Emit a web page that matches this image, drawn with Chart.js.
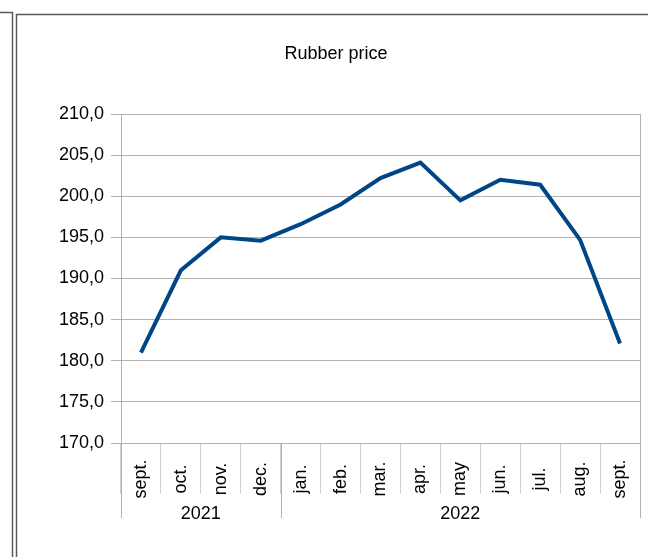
<!DOCTYPE html>
<html>
<head>
<meta charset="utf-8">
<script src="https://cdn.jsdelivr.net/npm/chart.js@4"></script>
<style>
  html, body { margin: 0; padding: 0; background: #fff; }
  canvas { display: block; }
</style>
</head>
<body>
<canvas id="c" width="648" height="557"></canvas>
<script>
const chartTitle = "Rubber price";
const months = ["sept.", "oct.", "nov.", "dec.", "jan.", "feb.", "mar.", "apr.", "may", "jun.", "jul.", "aug.", "sept."];
const years = ["2021", "2022"];
const yearSpans = [4, 9];           // number of months under each year
const prices = [181.0, 191.0, 195.0, 194.6, 196.6, 199.0, 202.2, 204.1, 199.5, 202.0, 201.4, 194.7, 182.1];
const yMin = 170, yMax = 210, yStep = 5;

const FONT = '"Liberation Sans", Arial, sans-serif';
const GRID = '#b3b3b3';

const decorPlugin = {
  id: 'decor',
  beforeDraw(chart) {
    const ctx = chart.ctx;
    ctx.save();
    ctx.strokeStyle = '#5a5a5a';
    ctx.lineWidth = 1.5;
    ctx.beginPath();
    ctx.moveTo(0, 12.5); ctx.lineTo(13, 12.5);
    ctx.moveTo(12.5, 12); ctx.lineTo(12.5, 557);
    ctx.moveTo(16.5, 557); ctx.lineTo(16.5, 14.5); ctx.lineTo(648, 14.5);
    ctx.stroke();
    ctx.restore();
  },
  afterDraw(chart) {
    const ctx = chart.ctx;
    const xs = chart.scales.x;
    const area = chart.chartArea;
    const labelY = 479, yearY = 514, sepBottom = 518;
    ctx.save();
    // group separators and plot right border
    ctx.strokeStyle = GRID;
    ctx.lineWidth = 1;
    const half = (xs.getPixelForValue(1) - xs.getPixelForValue(0)) / 2;
    ctx.beginPath();
    ctx.moveTo(Math.round(area.right) + 0.5, area.top);
    ctx.lineTo(Math.round(area.right) + 0.5, sepBottom);
    let idx = 0;
    const bounds = [];
    bounds.push(xs.getPixelForValue(0) - half);
    yearSpans.forEach(n => { idx += n; bounds.push(xs.getPixelForValue(idx - 1) + half); });
    bounds.forEach(b => {
      const bx = Math.round(b) + 0.5;
      ctx.moveTo(bx, area.bottom);
      ctx.lineTo(bx, sepBottom);
    });
    ctx.stroke();
    // month labels, rotated
    ctx.fillStyle = '#000';
    ctx.font = '18px ' + FONT;
    ctx.textAlign = 'center';
    ctx.textBaseline = 'middle';
    months.forEach((m, i) => {
      const x = xs.getPixelForValue(i);
      ctx.save();
      ctx.translate(x, labelY);
      ctx.rotate(-Math.PI / 2);
      ctx.fillText(m, 0, 0);
      ctx.restore();
    });
    // year labels
    years.forEach((y, k) => {
      const cx = (bounds[k] + bounds[k + 1]) / 2;
      ctx.fillText(y, cx, yearY);
    });
    ctx.restore();
  }
};

new Chart(document.getElementById('c'), {
  type: 'line',
  data: {
    labels: months.map((m, i) => i),
    datasets: [{
      label: chartTitle,
      data: prices,
      borderColor: '#004586',
      backgroundColor: '#004586',
      borderWidth: 4,
      pointRadius: 0,
      tension: 0,
      fill: false,
      borderJoinStyle: 'miter'
    }]
  },
  options: {
    responsive: false,
    animation: false,
    layout: { padding: { left: 32, right: 8, top: 0, bottom: 0 } },
    plugins: {
      legend: { display: false },
      tooltip: { enabled: false },
      title: {
        display: true,
        text: chartTitle,
        color: '#000',
        font: { family: FONT, size: 18, weight: 'normal', lineHeight: 1.2 },
        padding: { top: 43, bottom: 49.4 }
      }
    },
    scales: {
      x: {
        type: 'category',
        offset: true,
        grid: { offset: true, drawOnChartArea: false, drawTicks: true, tickLength: 51, color: '#cfcfcf' },
        border: { color: GRID },
        ticks: { display: false },
        afterFit(s) { s.height = 114; }
      },
      y: {
        min: yMin,
        max: yMax,
        ticks: {
          stepSize: yStep,
          color: '#000',
          font: { family: FONT, size: 18 },
          padding: 7,
          callback: v => v.toFixed(1).replace('.', ',')
        },
        grid: { color: GRID, tickLength: 10 },
        border: { color: GRID },
        afterFit(s) { s.width = 89; }
      }
    }
  },
  plugins: [decorPlugin]
});
</script>
</body>
</html>
